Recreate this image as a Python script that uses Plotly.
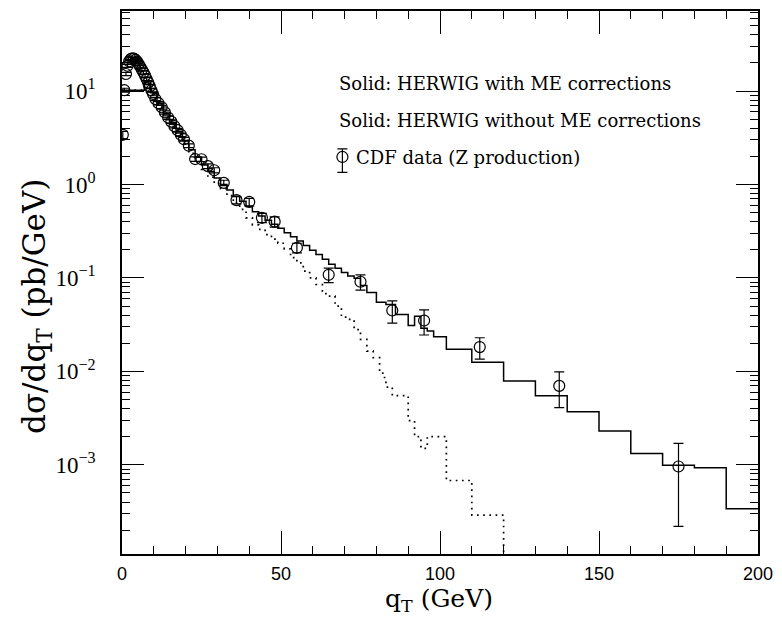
import plotly.graph_objects as go

# ---------------- data ----------------
q_data = [0.25, 0.75, 1.25, 1.75, 2.25, 2.75, 3.25, 3.75, 4.25, 4.75,
          5.25, 5.75, 6.25, 6.75, 7.25, 7.75, 8.25, 8.75, 9.25, 9.75,
          10.5, 11.5, 12.5, 13.5, 14.5, 15.5, 16.5, 17.5, 18.5, 19.5,
          21, 23, 25, 27, 29, 32, 36, 40, 44, 48,
          55, 65, 75, 85, 95, 112.5, 137.5, 175]
sigma_data = [3.4, 10.2, 15.2, 18.6, 20.8, 22.0, 22.4, 22.2, 21.5, 20.6,
              19.4, 18.2, 17.0, 15.8, 14.6, 13.4, 12.3, 11.2, 10.2, 9.3,
              8.2, 7.4, 6.7, 5.9, 5.2, 4.7, 4.2, 3.8, 3.4, 3.05,
              2.6, 1.87, 1.86, 1.57, 1.42, 1.04, 0.68, 0.65, 0.44, 0.40,
              0.21, 0.108, 0.091, 0.0448, 0.035, 0.0182, 0.0070, 0.00096]
sigma_err = [0.3, 0.5, 0.6, 0.7, 0.7, 0.7, 0.7, 0.7, 0.7, 0.7,
             0.6, 0.6, 0.6, 0.6, 0.5, 0.5, 0.5, 0.5, 0.4, 0.4,
             0.3, 0.3, 0.3, 0.25, 0.22, 0.2, 0.18, 0.17, 0.15, 0.14,
             0.12, 0.1, 0.1, 0.09, 0.09, 0.07, 0.06, 0.06, 0.05, 0.05,
             0.025, 0.019, 0.017, 0.012, 0.0105, 0.0047, 0.0029, 0.00074]

# HERWIG with ME corrections (solid histogram): bin edges and contents
with_me_edges = [0, 7, 9, 11, 13, 15, 17, 19, 21, 23, 25, 27, 29, 31, 33, 35,
                 37, 39, 41, 43, 45, 47, 49, 51, 53, 55, 57, 59, 61, 63, 65,
                 67, 69, 71, 73, 75, 77, 80, 83, 86, 90, 92, 94, 96, 98, 102,
                 110, 120, 130, 140, 150, 160, 170, 180, 190, 200]
with_me_vals = [10.2, 12.5, 9.6, 7.4, 5.7, 4.6, 3.7, 2.95, 2.35, 1.95, 1.62,
                1.38, 1.17, 1.0, 0.87, 0.75, 0.66, 0.58, 0.51, 0.46, 0.415,
                0.375, 0.34, 0.305, 0.275, 0.248, 0.222, 0.198, 0.178, 0.158,
                0.14, 0.127, 0.114, 0.105, 0.099, 0.083, 0.07, 0.055, 0.052,
                0.0406, 0.031, 0.039, 0.029, 0.027, 0.0234, 0.0172, 0.0125,
                0.0079, 0.0055, 0.0037, 0.0023, 0.00132, 0.00099, 0.00093,
                0.00034]

# HERWIG without ME corrections (dotted histogram)
no_me_edges = [0, 7, 9, 11, 13, 15, 17, 19, 21, 23, 25, 27, 29, 31, 33, 35,
               37, 39, 41, 43, 45, 47, 49, 51, 53, 55, 57, 59, 61, 63, 65,
               67, 69, 71, 73, 75, 77, 79, 81, 82, 83, 85, 90, 92, 94, 96,
               102, 110, 120, 130]
no_me_vals = [10.2, 12.3, 9.4, 7.2, 5.5, 4.4, 3.45, 2.75, 2.15, 1.75, 1.45,
              1.2, 1.02, 0.9, 0.76, 0.63, 0.54, 0.44, 0.37, 0.33, 0.29, 0.26,
              0.235, 0.205, 0.165, 0.145, 0.118, 0.1, 0.085, 0.068, 0.064,
              0.05, 0.038, 0.036, 0.028, 0.022, 0.0165, 0.014, 0.0101,
              0.0086, 0.0068, 0.0055, 0.00297, 0.002, 0.0015, 0.002, 0.00068,
              0.00029, 0]

x_ticks = [0, 50, 100, 150, 200]
x_ticktext = ["0", "50", "100", "150", "200"]
y_ticks = [1e-3, 1e-2, 1e-1, 1, 10]
y_ticktext = ["10<sup>\u22123</sup>", "10<sup>\u22122</sup>", "10<sup>\u22121</sup>",
              "10<sup>0</sup>", "10<sup>1</sup>"]

legend_lines = ["Solid: HERWIG with ME corrections",
                "Solid: HERWIG without ME corrections",
                "CDF data (Z production)"]


def steps(edges, vals, floor=1e-9):
    xs = list(edges[:-1]) + [edges[-1]]
    ys = [v if v > 0 else floor for v in vals] + [vals[-1] if vals[-1] > 0 else floor]
    return xs, ys


fig = go.Figure()

xs, ys = steps(with_me_edges, with_me_vals)
fig.add_trace(go.Scatter(x=xs, y=ys, mode="lines", line_shape="hv",
                         line=dict(color="black", width=1.5),
                         showlegend=False, hoverinfo="skip"))

xs, ys = steps(no_me_edges, no_me_vals)
fig.add_trace(go.Scatter(x=xs, y=ys, mode="lines", line_shape="hv",
                         line=dict(color="black", width=1.7, dash="1.7px,4.5px"),
                         showlegend=False, hoverinfo="skip"))

fig.add_trace(go.Scatter(x=q_data, y=sigma_data, mode="markers",
                         marker=dict(symbol="circle-open", size=11,
                                     color="black", line=dict(width=1.2)),
                         error_y=dict(type="data", array=sigma_err, visible=True,
                                      color="black", thickness=1.2, width=5),
                         showlegend=False))

# legend symbol drawn on an overlay axis spanning the plot area (0..1)
W, H = 643.5, 545.0
fig.add_trace(go.Scatter(x=[(345 - 122) / W], y=[(554 - 155.5) / H],
                         xaxis="x2", yaxis="y2", mode="markers",
                         marker=dict(symbol="circle-open", size=11,
                                     color="black", line=dict(width=1.2)),
                         error_y=dict(type="data", symmetric=False,
                                      array=[8.2 / H], arrayminus=[15.5 / H],
                                      color="black", thickness=1.2, width=5),
                         showlegend=False, hoverinfo="skip"))

axis_common = dict(showline=True, linecolor="black", linewidth=1.8,
                   mirror="allticks", ticks="inside", tickcolor="black",
                   tickwidth=1.3, showgrid=False, zeroline=False)

fig.update_layout(
    width=782, height=617,
    margin=dict(l=122, r=16.5, t=9, b=63),
    paper_bgcolor="white", plot_bgcolor="white",
    xaxis=dict(range=[0, 200], tickmode="array", tickvals=x_ticks,
               ticktext=x_ticktext, ticklen=23,
               tickfont=dict(family="Liberation Sans", size=18, color="black"),
               ticklabelstandoff=2,
               minor=dict(ticks="inside", ticklen=8, dtick=10,
                          tickcolor="black", tickwidth=1.3, showgrid=False),
               **axis_common),
    yaxis=dict(type="log", range=[-3.954, 1.856], tickmode="array",
               tickvals=y_ticks, ticktext=y_ticktext, ticklen=22,
               tickfont=dict(family="Liberation Serif", size=23, color="black"),
               ticklabelstandoff=20,
               minor=dict(ticks="inside", ticklen=8,
                          tickvals=[m * 10 ** e for e in range(-4, 2) for m in range(2, 10)],
                          tickcolor="black", tickwidth=1.3, showgrid=False),
               **axis_common),
    xaxis2=dict(overlaying="x", range=[0, 1], visible=False),
    yaxis2=dict(overlaying="y", range=[0, 1], visible=False),
)

ann = []
ann.append(dict(text=legend_lines[0], x=(340 - 122) / W, y=(554 - 82) / H))
ann.append(dict(text=legend_lines[1], x=(340 - 122) / W, y=(554 - 119) / H))
ann.append(dict(text=legend_lines[2], x=(357 - 122) / W, y=(554 - 156) / H))
for a in ann:
    fig.add_annotation(xref="paper", yref="paper", xanchor="left", yanchor="middle",
                       showarrow=False,
                       font=dict(family="DejaVu Serif", size=18, color="black"), **a)

fig.add_annotation(text="q<sub>T</sub> (GeV)", xref="paper", yref="paper",
                   x=(443 - 122) / W, y=(554 - 617) / H, xanchor="center",
                   yanchor="bottom", showarrow=False, borderpad=0,
                   font=dict(family="DejaVu Serif", size=25, color="black"))
fig.add_annotation(text="d\u03c3/dq<sub>T</sub> (pb/GeV)", xref="paper", yref="paper",
                   x=(36 - 122) / W, y=(554 - 306) / H, xanchor="center",
                   yanchor="middle", textangle=-90, showarrow=False,
                   font=dict(family="DejaVu Serif", size=31, color="black"))

fig.write_html("out.html")
